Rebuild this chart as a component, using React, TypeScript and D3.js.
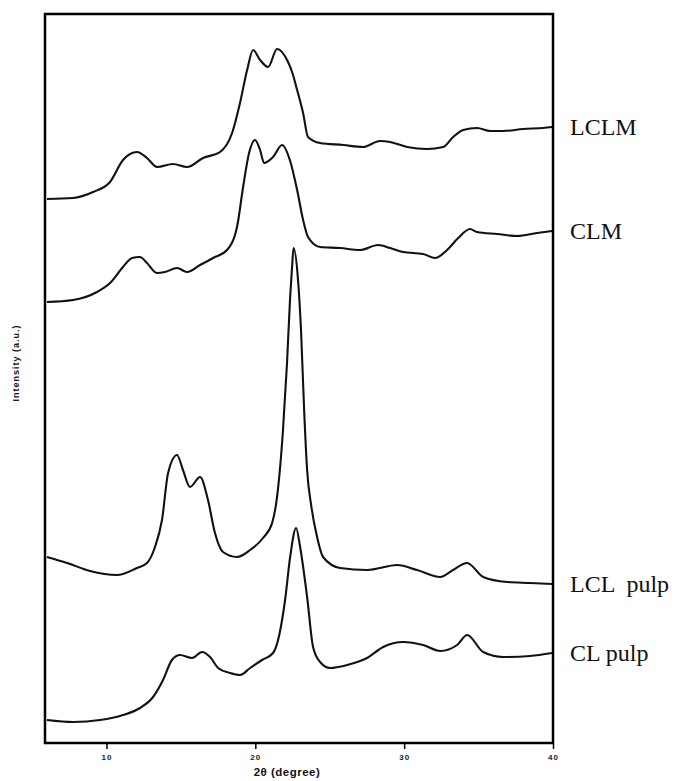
import { useEffect, useRef } from 'react';
import * as d3 from 'd3';

// 2θ (degree) and intensity (a.u., as stacked in the figure)
const lclmTheta = [6.0, 7.75, 9.1, 10.24, 11.11, 12.05, 12.72, 13.4, 14.47, 15.41, 16.49, 17.63, 18.44, 18.97, 19.45, 19.85, 20.32, 20.86, 21.46, 22.2, 22.47, 22.81, 23.21, 23.54, 24.35, 25.9, 27.24, 28.38, 29.06, 30.2, 31.54, 32.62, 33.29, 33.96, 34.9, 35.78, 36.65, 37.99, 39.34, 39.94];
const lclmInt = [544, 545, 551, 561, 583, 591, 585, 576, 579, 576, 585, 591, 610, 640, 673, 693, 683, 676, 694, 681, 671, 653, 630, 606, 600, 598, 596, 602, 601, 596, 594, 596, 606, 613, 615, 612, 612, 614, 615, 616];

const clmTheta = [6.0, 7.75, 9.36, 10.24, 11.11, 11.72, 12.25, 12.72, 13.4, 13.93, 14.74, 15.41, 16.29, 17.16, 18.1, 18.77, 19.18, 19.58, 19.98, 20.32, 20.59, 21.19, 21.8, 22.34, 22.81, 23.21, 23.54, 24.35, 25.7, 27.04, 28.25, 29.06, 29.93, 31.27, 32.08, 32.89, 33.63, 34.43, 34.9, 36.25, 37.59, 38.93, 39.94];
const clmInt = [441, 443, 451, 460, 476, 485, 486, 480, 470, 471, 475, 471, 478, 485, 493, 516, 556, 590, 603, 593, 580, 586, 598, 582, 553, 523, 506, 496, 495, 493, 498, 495, 491, 489, 485, 493, 505, 514, 511, 509, 507, 510, 512];

const lclPulpTheta = [6.0, 7.35, 8.89, 10.71, 12.05, 12.72, 13.26, 13.73, 14.14, 14.74, 15.14, 15.61, 16.29, 16.82, 17.29, 17.83, 18.77, 19.65, 20.52, 21.13, 21.46, 21.86, 22.13, 22.34, 22.47, 22.57, 22.87, 23.07, 23.28, 23.48, 23.75, 24.15, 24.55, 25.7, 27.51, 29.53, 30.87, 32.42, 33.29, 34.23, 35.31, 36.92, 38.46, 39.94];
const lclPulpInt = [186, 180, 172, 168, 175, 180, 196, 223, 270, 288, 273, 256, 266, 243, 210, 191, 186, 193, 205, 220, 246, 313, 380, 446, 476, 495, 463, 413, 333, 273, 238, 206, 186, 175, 173, 178, 173, 166, 173, 180, 166, 161, 160, 159];

const clPulpTheta = [6.0, 7.75, 9.57, 11.11, 12.25, 13.13, 13.8, 14.4, 14.94, 15.75, 16.42, 16.96, 17.5, 18.3, 18.97, 19.65, 20.45, 21.19, 21.53, 22.0, 22.34, 22.74, 23.01, 23.48, 23.88, 24.35, 25.02, 26.17, 27.51, 28.59, 29.93, 31.27, 32.42, 33.56, 34.23, 35.31, 36.65, 38.46, 39.94];
const clPulpInt = [23, 21, 23, 28, 35, 46, 63, 83, 88, 85, 91, 86, 75, 70, 68, 75, 83, 90, 103, 143, 186, 215, 196, 146, 96, 81, 75, 78, 85, 96, 101, 98, 92, 98, 108, 91, 86, 87, 90];

const seriesNames = ['LCLM', 'CLM', 'LCL  pulp', 'CL pulp'];
const xTicks = [10, 20, 30, 40];

const series = [
  { name: seriesNames[0], theta: lclmTheta, int: lclmInt },
  { name: seriesNames[1], theta: clmTheta, int: clmInt },
  { name: seriesNames[2], theta: lclPulpTheta, int: lclPulpInt },
  { name: seriesNames[3], theta: clPulpTheta, int: clPulpInt },
];

const W = 676, H = 781;
const m = { left: 45, right: 553, top: 14, bottom: 743 };

export default function App() {
  const axisRef = useRef<SVGGElement>(null);

  const x = d3.scaleLinear().domain([5.87, 40]).range([m.left, m.right]);
  const y = d3.scaleLinear().domain([0, 729]).range([m.bottom, m.top]);
  const line = d3.line<[number, number]>()
    .x(d => x(d[0]))
    .y(d => y(d[1]))
    .curve(d3.curveMonotoneX);

  useEffect(() => {
    const g = d3.select(axisRef.current);
    g.selectAll('*').remove();
    g.call(d3.axisBottom(x).tickValues(xTicks).tickSize(5).tickPadding(5).tickFormat(d3.format('d')));
    g.select('.domain').remove();
    g.selectAll('.tick line').attr('stroke', '#000').attr('stroke-width', 1.5);
    g.selectAll('.tick text')
      .attr('font-family', 'Liberation Sans, Arial, sans-serif')
      .attr('font-size', 8)
      .attr('font-weight', 'bold')
      .attr('letter-spacing', 1)
      .attr('fill', '#222');
  }, []);

  return (
    <svg width={W} height={H} style={{ position: 'absolute', left: 0, top: 0, background: '#fff' }}>
      {series.map(s => (
        <path
          key={s.name}
          d={line(s.theta.map((t, i) => [t, s.int[i]] as [number, number])) || ''}
          fill="none"
          stroke="#111"
          strokeWidth={2.1}
          strokeLinejoin="round"
        />
      ))}
      <rect x={m.left} y={m.top} width={m.right - m.left} height={m.bottom - m.top}
        fill="none" stroke="#000" strokeWidth={2.5} />
      <g ref={axisRef} transform={`translate(0,${m.bottom + 1})`} />
      {series.map(s => (
        <text key={s.name} x={570} y={y(s.int[s.int.length - 1])} dy="0.35em"
          fontFamily="Liberation Serif, Times New Roman, serif" fontSize={24}
          fill="#111" style={{ whiteSpace: 'pre' }}>
          {s.name}
        </text>
      ))}
      <text x={287} y={776} textAnchor="middle" fontFamily="Liberation Sans, Arial, sans-serif"
        fontSize={11.5} fontWeight="bold" letterSpacing={0.5} fill="#111">
        2θ (degree)
      </text>
      <text transform={`translate(19,${363}) rotate(-90)`} textAnchor="middle"
        fontFamily="Liberation Sans, Arial, sans-serif" fontSize={9} fontWeight="bold"
        letterSpacing={1} fill="#111">
        Intensity (a.u.)
      </text>
    </svg>
  );
}
